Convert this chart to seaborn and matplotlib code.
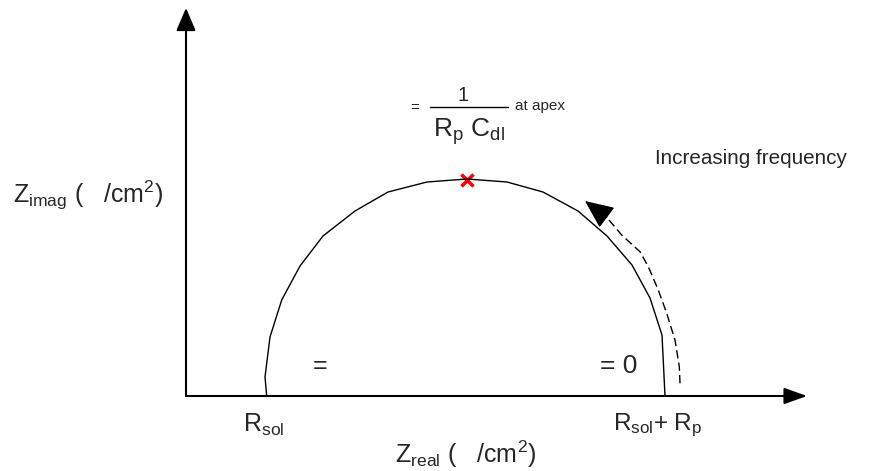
import numpy as np
import pandas as pd
import matplotlib
matplotlib.use("Agg")
import matplotlib.pyplot as plt
import seaborn as sns

sns.set_style("white", {'axes.grid': False})
plt.rcParams['font.family'] = ['Liberation Sans', 'DejaVu Sans']
plt.rcParams['mathtext.fontset'] = 'custom'
plt.rcParams['mathtext.rm'] = 'Liberation Sans'
plt.rcParams['mathtext.it'] = 'Liberation Sans:italic'

# Nyquist semicircle (arbitrary units, origin at axes corner)
z_real = [80.7, 79, 84, 95.7, 114, 137, 169, 202, 241, 281, 321, 357, 392, 421, 446, 464, 476, 479]
z_imag = [0, 19, 59, 96, 130, 160, 185, 204, 214, 217, 214, 204, 185, 160, 131, 98, 61, 0]

# dashed "increasing frequency" path
freq_real = [494, 493.3, 489, 480.7, 472.3, 462.3, 454, 435.7, 420.7]
freq_imag = [12.7, 29.3, 56, 82.7, 106, 129.3, 144.3, 161, 178.7]
freq_tip = (399, 195)

apex = (281, 216)
r_sol = 80.7
r_p = 398.3

df = pd.DataFrame({'Zreal': z_real, 'Zimag': z_imag})

fig, ax = plt.subplots(figsize=(8.75, 4.71), dpi=100)
ax.set_position([0, 0, 1, 1])
ax.set_xlim(-186, 689)
ax.set_ylim(-75, 396)
ax.axis('off')

# axes with arrow heads
ax.annotate("", xy=(621, 0), xytext=(0, 0),
            arrowprops=dict(arrowstyle='-|>,head_length=1.4,head_width=0.5', lw=1.5,
                            color='black', mutation_scale=10, shrinkA=0, shrinkB=0))
ax.annotate("", xy=(0, 388), xytext=(0, 0),
            arrowprops=dict(arrowstyle='-|>,head_length=1.4,head_width=0.6', lw=1.5,
                            color='black', mutation_scale=10, shrinkA=0, shrinkB=0))

sns.lineplot(data=df, x='Zreal', y='Zimag', sort=False, color='black', lw=1.0, ax=ax)
ax.plot(freq_real, freq_imag, color='black', lw=1.0, dashes=(6, 3))
ax.annotate("", xy=freq_tip, xytext=(freq_real[-1], freq_imag[-1]),
            arrowprops=dict(arrowstyle='-|>,head_length=1.8,head_width=0.8', lw=1.0,
                            color='black', mutation_scale=10, shrinkA=0, shrinkB=0))
sns.scatterplot(x=[apex[0]], y=[apex[1]], marker='x', color='red', s=75, linewidth=2.5, ax=ax)

ax.text(-173, 201, r"Z$_{\mathrm{imag}}$ (   /cm$^2$)", fontsize=18, ha='left', va='center')
ax.text(209, -58, r"Z$_{\mathrm{real}}$ (   /cm$^2$)", fontsize=18, ha='left', va='center')
ax.text(57, -29, r"R$_{\mathrm{sol}}$", fontsize=18, ha='left', va='center')
ax.text(r_sol + r_p - 52, -29, r"R$_{\mathrm{sol}}$+ R$_{\mathrm{p}}$", fontsize=17.5, ha='left', va='center')
ax.text(127, 30, "=", fontsize=18, ha='left', va='center')
ax.text(414, 30, "= 0", fontsize=19, ha='left', va='center')
ax.text(469, 232, "Increasing frequency", fontsize=14.9, ha='left', va='baseline')

# 1/(Rp Cdl) at apex
ax.text(224, 288, "=", fontsize=11, ha='left', va='center')
ax.text(277, 295, "1", fontsize=14.5, ha='center', va='baseline')
ax.plot([244, 322], [289, 289], color='black', lw=1.0)
ax.text(283, 280, r"R$_{\mathrm{p}}$ C$_{\mathrm{dl}}$", fontsize=19, ha='center', va='top')
ax.text(329, 290, "at apex", fontsize=11, ha='left', va='center')

fig.savefig("out.png", dpi=100)
